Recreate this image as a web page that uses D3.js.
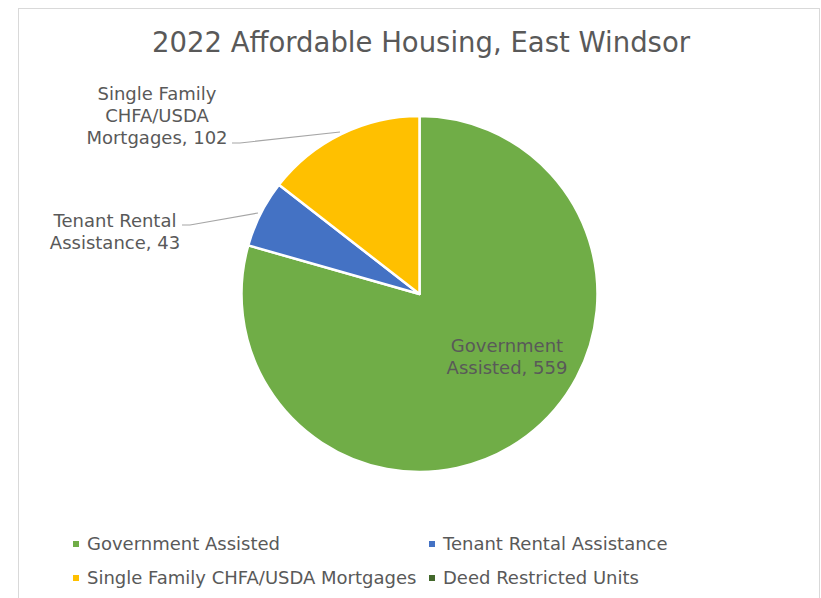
<!DOCTYPE html>
<html><head><meta charset="utf-8">
<script src="https://cdn.jsdelivr.net/npm/d3@7"></script>
<style>body{margin:0;background:#fff}svg{display:block}text{font-family:"DejaVu Sans",sans-serif;fill:#595959}</style>
</head><body><svg id="c" width="821" height="598"></svg>
<script>
const title = "2022 Affordable Housing, East Windsor";
const categories = ["Government Assisted","Tenant Rental Assistance","Single Family CHFA/USDA Mortgages","Deed Restricted Units"];
const values = [559, 43, 102, 0];
const colors = ["#70AD47","#4472C4","#FFC000","#43682B"];
const labelLines = [["Government","Assisted, 559"],["Tenant Rental","Assistance, 43"],["Single Family","CHFA/USDA","Mortgages, 102"],[]];

const svg = d3.select("#c");
svg.append("rect").attr("x",18.5).attr("y",8.5).attr("width",801).attr("height",600)
  .attr("fill","#fff").attr("stroke","#d9d9d9").attr("stroke-width",1);

svg.append("text").attr("x",421).attr("y",52).attr("text-anchor","middle")
  .style("font-size","27.5px").text(title);

const cx = 419.5, cy = 294, r = 178;
const data = categories.map((c,i)=>({cat:c,value:values[i],color:colors[i],lines:labelLines[i]}));
const pie = d3.pie().value(d=>d.value).sort(null);
const arcs = pie(data);
const arc = d3.arc().innerRadius(0).outerRadius(r);
const g = svg.append("g").attr("transform",`translate(${cx},${cy})`);
g.selectAll("path").data(arcs.filter(a=>a.value>0)).join("path")
  .attr("d",arc).attr("fill",d=>d.data.color).attr("stroke","#fff").attr("stroke-width",2.5).attr("stroke-linejoin","round");

const labelPos = [
  {x:507, y:351, anchor:"middle", inside:true},
  {x:115, y:227, anchor:"middle", lx:182, ly:225, ex:258, ey:213},
  {x:157, y:100, anchor:"middle", lx:232, ly:143, ex:340, ey:132}
];
const lineH = 22;
arcs.forEach((a,i)=>{
  if(a.value<=0) return;
  const p = labelPos[i];
  const t = svg.append("text").attr("text-anchor",p.anchor).style("font-size","18px");
  a.data.lines.forEach((ln,j)=>{
    t.append("tspan").attr("x",p.x).attr("y",p.y+j*lineH+(i===0?1:0)).text(ln);
  });
  if(!p.inside){
    svg.append("polyline").attr("points",`${p.lx},${p.ly} ${p.lx+8},${p.ly} ${p.ex},${p.ey}`)
      .attr("fill","none").attr("stroke","#a6a6a6").attr("stroke-width",1.2);
  }
});

const legPos = [[76,544],[432,544],[76,578],[432,578]];
const lg = svg.append("g");
data.forEach((d,i)=>{
  const [x,y] = legPos[i];
  lg.append("rect").attr("x",x-3).attr("y",y-3).attr("width",6).attr("height",6).attr("fill",d.color);
  lg.append("text").attr("x",x+11).attr("y",y+6).style("font-size","18px").text(d.cat);
});
</script></body></html>
